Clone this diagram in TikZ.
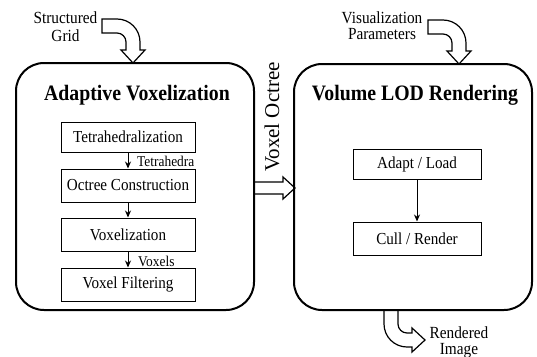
\documentclass[tikz,border=0pt]{standalone}
\usepackage{fontspec}
\setmainfont[FakeStretch=0.9]{Liberation Serif}
\newfontfamily\plainserif{Liberation Serif}
\usetikzlibrary{arrows.meta}

\tikzset{
  stage/.style={draw, line width=2pt, rounded corners=28pt, inner sep=0pt},
  stepbox/.style={draw, line width=1pt, inner sep=0pt,
    font=\fontsize{16.8}{19}\selectfont},
  flow/.style={-{Stealth[length=7pt,width=6pt]}, line width=1pt},
  note/.style={anchor=base west, inner sep=0pt, font=\fontsize{14.9}{17}\selectfont},
  io/.style={anchor=base, inner sep=0pt, font=\fontsize{17}{18}\selectfont},
  heading/.style={anchor=base, inner sep=0pt, font=\bfseries\fontsize{22}{24}\selectfont},
  blockarrow/.style={draw, line width=1.2pt, line join=miter}
}

\begin{document}
\begin{tikzpicture}[x=1pt, y=-1pt]
\useasboundingbox (0,0) rectangle (537,356);

% hollow input / output arrows
\draw[blockarrow] (102,19) -- (117,19) arc[start angle=90, end angle=0, radius=23pt]
  -- (140,50) -- (145,50) -- (133,63) -- (121,50) -- (126,50) -- (126,42)
  arc[start angle=0, end angle=90, radius=9pt] -- (102,33) -- cycle;
\draw[blockarrow, shift={(326,1)}] (102,19) -- (117,19) arc[start angle=90, end angle=0, radius=23pt]
  -- (140,50) -- (145,50) -- (133,63) -- (121,50) -- (126,50) -- (126,42)
  arc[start angle=0, end angle=90, radius=9pt] -- (102,33) -- cycle;
\draw[blockarrow] (384,310) -- (384,324) arc[start angle=180, end angle=270, radius=23pt]
  -- (412,347) -- (412,352) -- (425,340) -- (412,328) -- (412,333) -- (407,333)
  arc[start angle=270, end angle=180, radius=9pt] -- (398,310);
\draw[blockarrow] (254,182) -- (283,182) -- (283,177) -- (295,188) -- (283,199) -- (283,194) -- (254,194);

% the two stages
\node[stage, minimum width=238pt, minimum height=247pt] (vox) at (135,186.5) {};
\node[stage, minimum width=238pt, minimum height=246pt] (lod) at (413,187) {};

\node[heading] (voxtitle) at (137,100) {Adaptive Voxelization};
\node[heading] (lodtitle) at (415,100) {Volume LOD Rendering};

% voxelization pipeline
\node[stepbox, minimum width=134pt, minimum height=30pt] (tet) at (128,137) {Tetrahedralization};
\node[stepbox, minimum width=134pt, minimum height=33pt] (oct) at (128,185.5) {Octree Construction};
\node[stepbox, minimum width=134pt, minimum height=33pt] (vxl) at (128,234.5) {Voxelization};
\node[stepbox, minimum width=134pt, minimum height=33pt] (flt) at (128,284.5) {Voxel Filtering};
\draw[flow] (tet) -- (oct);
\draw[flow] (oct) -- (vxl);
\draw[flow] (vxl) -- (flt);
\node[note] (tetlabel) at (137,166) {Tetrahedra};
\node[note] (vxllabel) at (138,266) {Voxels};

% rendering pipeline
\node[stepbox, minimum width=128pt, minimum height=30pt] (load) at (417,164) {Adapt / Load};
\node[stepbox, minimum width=128pt, minimum height=33pt] (cull) at (417,238.5) {Cull / Render};
\draw[flow] (load) -- (cull);

% labels of the data passed around
\node[io] (in1a) at (65.5,23) {Structured};
\node[io] (in1b) at (65.5,41) {Grid};
\node[io] (in2a) at (382,23) {Visualization};
\node[io] (in2b) at (382,39) {Parameters};
\node[io] (outa) at (459,338) {Rendered};
\node[io] (outb) at (459,354.5) {Image};
\node[rotate=90, inner sep=0pt, font=\plainserif\fontsize{21}{22}\selectfont] (octree) at (272,117) {Voxel Octree};
\end{tikzpicture}
\end{document}
